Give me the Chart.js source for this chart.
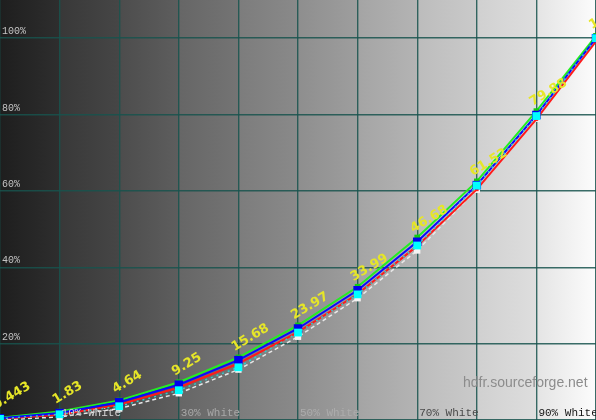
<!DOCTYPE html>
<html>
<head>
<meta charset="utf-8">
<script src="https://cdn.jsdelivr.net/npm/chart.js@4"></script>
<style>
  html, body { margin: 0; padding: 0; background: #fff; }
  #wrap { width: 596px; height: 420px; }
</style>
</head>
<body>
<div id="wrap"><canvas id="gamma"></canvas></div>
<script>
// stimulus levels (% white)
const levels = [0, 10, 20, 30, 40, 50, 60, 70, 80, 90, 100];

// measured luminance per channel (% of white)
const lumY     = [0.443, 1.83, 4.64, 9.25, 15.68, 23.97, 33.99, 46.68, 61.52, 79.88, 100];
const lumGreen = [0.6, 2.2, 5.1, 9.9, 16.4, 24.8, 34.9, 47.8, 62.5, 80.9, 100.6];
const lumRed   = [0.3, 1.4, 4.0, 8.5, 14.8, 23.0, 33.0, 45.6, 60.4, 78.8, 99.2];
const lumCyan  = [0.3, 1.5, 3.6, 7.8, 13.8, 22.9, 32.9, 45.7, 61.4, 79.6, 100];
const lumRef   = [0, 0.8, 3.0, 7.0, 13.2, 21.8, 31.9, 44.4, 60.3, 78.9, 100];

const yTicks = [0, 20, 40, 60, 80, 100];
const yTickLabels = ['', '20%', '40%', '60%', '80%', '100%'];
const xTickLabels = ['10% White', '30% White', '50% White', '70% White', '90% White'];
const xTickValues = [10, 30, 50, 70, 90];
const xTickColors = ['#d4d4d4', '#a8a8a8', '#acacac', '#4a4a4a', '#151515'];

// gris de cada franja (inicio, fin)
const bands = [
  [0x1e, 0x2e], [0x38, 0x46], [0x4c, 0x5e], [0x66, 0x74], [0x7c, 0x8a],
  [0x8e, 0x9e], [0xa4, 0xb4], [0xbc, 0xca], [0xd0, 0xde], [0xe4, 0xfc]
];

const toXY = arr => arr.map((v, i) => ({ x: levels[i], y: v }));
const gray = v => `rgb(${v},${v},${v})`;

// fondo en franjas con degradado
const bandBackground = {
  id: 'bandBackground',
  beforeDraw(chart) {
    const { ctx, scales } = chart;
    ctx.save();
    for (let i = 0; i < bands.length; i++) {
      const x0 = scales.x.getPixelForValue(i * 10);
      const x1 = scales.x.getPixelForValue((i + 1) * 10);
      const g = ctx.createLinearGradient(x0, 0, x1, 0);
      g.addColorStop(0, gray(bands[i][0]));
      g.addColorStop(1, gray(bands[i][1]));
      ctx.fillStyle = g;
      ctx.fillRect(x0, 0, x1 - x0 + 1, chart.height);
    }
    ctx.restore();
  }
};

// textos de ejes, marca de agua y valores en amarillo
const overlayText = {
  id: 'overlayText',
  afterDatasetsDraw(chart) {
    const { ctx, scales } = chart;
    ctx.save();
    ctx.font = '10px "Liberation Mono", monospace';
    ctx.textBaseline = 'alphabetic';
    ctx.textAlign = 'left';
    ctx.fillStyle = '#c4c4c4';
    yTicks.forEach((v, i) => {
      if (!yTickLabels[i]) return;
      ctx.fillText(yTickLabels[i], 2, scales.y.getPixelForValue(v) - 4);
    });
    xTickValues.forEach((v, i) => {
      ctx.fillStyle = xTickColors[i];
      ctx.font = '11px "Liberation Mono", monospace';
      ctx.fillText(xTickLabels[i], scales.x.getPixelForValue(v) + 2, 416);
    });

    ctx.font = '14px "Liberation Sans", Arial, sans-serif';
    ctx.fillStyle = '#8c8c8c';
    ctx.fillText('hdfr.sourceforge.net', 463, 387);

    ctx.font = 'bold 13px "DejaVu Sans", Verdana, sans-serif';
    ctx.fillStyle = '#e6e628';
    lumY.forEach((v, i) => {
      const px = scales.x.getPixelForValue(levels[i]);
      const py = scales.y.getPixelForValue(v);
      ctx.save();
      ctx.translate(px - 4, py - 9);
      ctx.rotate(-0.54);
      ctx.fillText(String(v), 0, 0);
      ctx.restore();
    });
    ctx.restore();
  }
};

const gridColor = 'rgba(24,84,78,0.85)';

const ctx = document.getElementById('gamma').getContext('2d');
const chart = new Chart(ctx, {
  type: 'line',
  data: {
    datasets: [{
      label: 'Referencia',
      data: toXY(lumRef),
      borderColor: '#e8e8e8',
      borderWidth: 1.5,
      borderDash: [4, 3],
      pointStyle: 'rect',
      pointRadius: 4.5,
      pointBackgroundColor: '#f4f4f4',
      pointBorderWidth: 0,
      clip: false,
      order: 5
    }, {
      label: 'Rojo',
      data: toXY(lumRed),
      borderColor: '#ff1a1a',
      borderWidth: 2,
      pointStyle: 'rect',
      pointRadius: 2.5,
      pointBackgroundColor: '#ff1a1a',
      pointBorderWidth: 0,
      clip: false,
      order: 4
    }, {
      label: 'Verde',
      data: toXY(lumGreen),
      borderColor: '#22ee22',
      borderWidth: 2,
      pointStyle: 'rect',
      pointRadius: 4,
      pointBackgroundColor: '#11cc11',
      pointBorderWidth: 0,
      clip: false,
      order: 3
    }, {
      label: 'Y',
      data: toXY(lumY),
      borderColor: '#0a0aff',
      borderWidth: 2,
      pointStyle: 'rect',
      pointRadius: 6,
      pointBackgroundColor: '#0000ee',
      pointBorderWidth: 0,
      clip: false,
      order: 2
    }, {
      label: 'Cian',
      data: toXY(lumCyan),
      borderColor: '#33cccc',
      borderWidth: 1.5,
      borderDash: [2, 4],
      pointStyle: 'rect',
      pointRadius: 5.5,
      pointBackgroundColor: '#00ffff',
      pointBorderWidth: 0,
      clip: false,
      order: 1
    }]
  },
  options: {
    responsive: true,
    maintainAspectRatio: false,
    animation: false,
    layout: { padding: 0, autoPadding: false },
    plugins: {
      legend: { display: false },
      tooltip: { enabled: false }
    },
    scales: {
      x: {
        type: 'linear',
        min: 0,
        max: 100,
        ticks: { display: false, stepSize: 10 },
        grid: { color: gridColor, lineWidth: 1.4, drawTicks: false },
        border: { display: false }
      },
      y: {
        type: 'linear',
        min: 0,
        max: 110,
        afterBuildTicks: axis => { axis.ticks = yTicks.map(v => ({ value: v })); },
        ticks: { display: false },
        grid: { color: gridColor, lineWidth: 1.4, drawTicks: false },
        border: { display: false }
      }
    }
  },
  plugins: [bandBackground, overlayText]
});
</script>
</body>
</html>
